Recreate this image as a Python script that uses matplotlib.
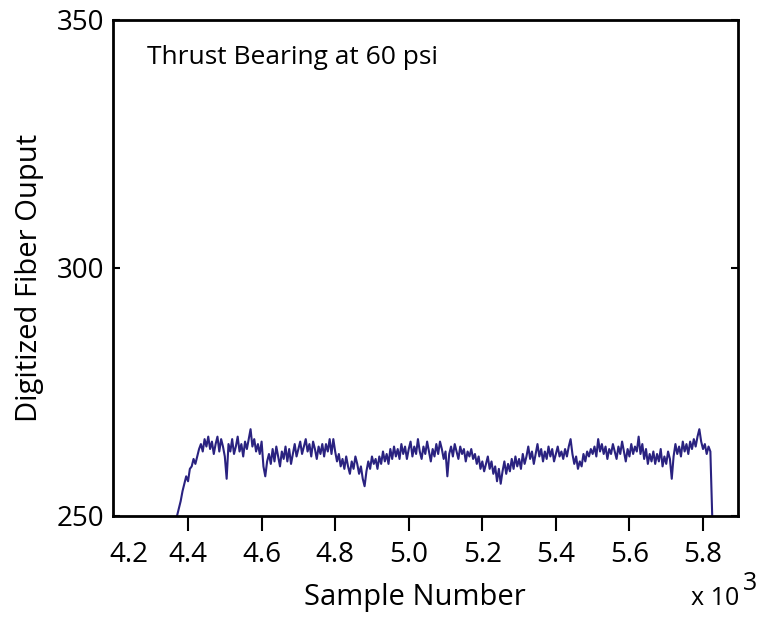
import numpy as np
import matplotlib.pyplot as plt
from matplotlib import transforms

# fiber output trace, one reading every 5 samples starting at sample 4370
start_sample = 4370
sample_step = 5
fiber_output = [
    250.0, 251.5, 253.0, 255.0, 256.5, 258.0, 257.0, 259.5, 260.0, 261.5,
    260.5, 262.0, 263.5, 264.5, 263.0, 265.5, 264.0, 266.0, 263.5, 265.0,
    262.5, 264.5, 266.0, 263.0, 265.5, 264.0, 262.0, 257.5, 264.5, 263.0,
    265.5, 262.5, 264.0, 266.0, 263.0, 264.5, 262.0, 265.0, 263.5, 265.5,
    267.5, 264.0, 265.5, 263.0, 264.5, 262.5, 265.0, 260.0, 258.0, 261.0,
    262.5, 260.5, 263.5, 261.0, 264.0, 262.0, 260.0, 263.0, 261.5, 264.0,
    261.0, 263.5, 260.5, 262.5, 264.5, 262.0, 263.5, 265.0, 262.5, 264.0,
    265.5, 263.0, 264.5, 262.0, 265.0, 263.5, 261.5, 264.0, 262.5, 264.5,
    262.0, 264.5, 263.0, 265.5, 262.5, 265.5, 263.0, 261.0, 262.5, 260.0,
    261.5, 259.5, 262.0, 260.0, 258.5, 261.0, 259.5, 262.0, 260.5, 258.5,
    260.0, 257.5, 256.0, 259.0, 261.0, 259.5, 262.0, 260.5, 261.5, 259.5,
    262.0, 260.5, 263.0, 261.0, 262.5, 260.5, 263.5, 261.5, 264.0, 262.0,
    263.5, 261.5, 264.5, 262.5, 264.0, 261.5, 263.5, 265.0, 262.0, 264.0,
    262.5, 265.5, 263.0, 261.5, 264.0, 262.5, 265.0, 263.0, 261.0, 263.5,
    262.0, 264.5, 262.5, 265.0, 263.5, 261.5, 263.0, 258.0, 262.5, 264.0,
    262.0, 264.5, 263.0, 261.5, 264.0, 262.5, 263.5, 261.0, 263.0, 262.0,
    263.5, 261.5, 262.5, 260.5, 262.0, 259.5, 261.0, 259.0, 260.5, 262.0,
    259.5, 261.0, 258.5, 260.0, 257.0, 259.5, 256.5, 259.0, 261.0, 258.5,
    260.5, 259.0, 261.5, 259.5, 262.0, 260.0, 261.5, 259.5, 262.5, 260.5,
    262.0, 264.0, 261.5, 263.0, 260.5, 262.5, 264.5, 262.0, 263.5, 261.0,
    263.0, 261.5, 264.0, 262.0, 263.5, 261.0, 262.5, 264.0, 262.0, 263.0,
    261.5, 263.5, 262.0, 264.0, 265.5, 262.5, 260.5, 262.0, 259.5, 261.0,
    260.0, 262.5, 261.0, 263.0, 262.0, 263.5, 262.5, 264.0, 262.0, 265.5,
    263.0, 264.5, 262.5, 264.0, 261.5, 263.5, 262.5, 264.5, 263.0, 261.5,
    264.0, 262.5, 265.0, 263.0, 261.0, 263.5, 262.0, 264.5, 262.5, 264.0,
    263.0, 266.0, 262.5, 264.5, 261.5, 263.5, 260.5, 262.5, 261.0, 263.0,
    260.5, 262.5, 261.0, 263.5, 260.0, 262.0, 260.5, 263.0, 261.5, 257.5,
    262.0, 264.5, 262.5, 264.0, 262.0, 265.0, 263.0, 264.5, 262.5, 265.0,
    263.5, 265.5, 264.0, 266.0, 267.5, 265.0, 263.5, 264.5, 262.5, 264.0,
    263.0, 250.0,
]

x_ticks = [4.2, 4.4, 4.6, 4.8, 5.0, 5.2, 5.4, 5.6, 5.8]
y_ticks = [250, 300, 350]

samples = start_sample + sample_step * np.arange(len(fiber_output))

plt.rcParams['font.family'] = ['Open Sans', 'DejaVu Sans']

fig = plt.figure(figsize=(7.66, 6.21), dpi=100)
ax = fig.add_axes([0.1475, 0.1691, 0.8159, 0.7987])

ax.plot(samples / 1000.0, fiber_output, color='#2a2280', linewidth=1.5)

ax.set_xlim(4.196, 5.895)
ax.set_ylim(250, 350)

ax.set_xticks(x_ticks)
ax.set_xticklabels([f'{t:.1f}' for t in x_ticks])
ax.set_yticks(y_ticks)

ax.tick_params(axis='x', direction='out', length=11, width=1.5, labelsize=20, pad=7)
ax.tick_params(axis='y', direction='in', length=5, width=1.5, labelsize=20,
               right=True, pad=6)

# first x label sits just right of the corner, without a tick mark
first = ax.xaxis.get_major_ticks()[0]
first.tick1line.set_visible(False)
first.label1.set_transform(first.label1.get_transform() +
                           transforms.ScaledTranslation(14 / 100, 0, fig.dpi_scale_trans))

for side in ax.spines.values():
    side.set_linewidth(2.0)

ax.set_xlabel('Sample Number', fontsize=21)
ax.xaxis.set_label_coords(0.483, -0.135)
ax.set_ylabel('Digitized Fiber Ouput', fontsize=21)
ax.yaxis.set_label_coords(-0.11, 0.48)

ax.text(0.055, 0.925, 'Thrust Bearing at 60 psi', transform=ax.transAxes,
        fontsize=19, va='center', ha='left')

fig.text(0.902, 0.026, 'x 10', fontsize=18, ha='left', va='baseline')
fig.text(0.970, 0.050, '3', fontsize=18, ha='left', va='baseline')

fig.savefig('out.png', dpi=100)
